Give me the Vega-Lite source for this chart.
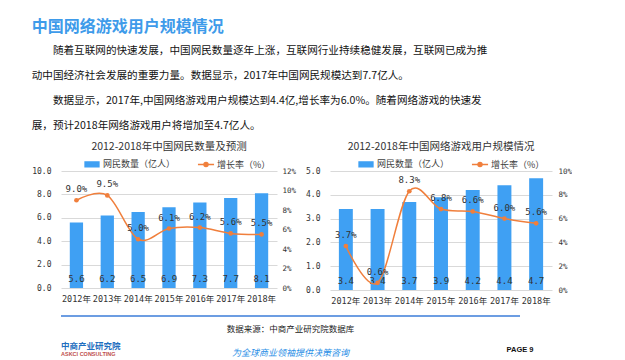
{
  "$schema": "https://vega.github.io/schema/vega-lite/v6.json",
  "padding": {"left": 31, "top": 18, "right": 0, "bottom": 0},
  "background": "white",
  "title": {
    "text": "中国网络游戏用户规模情况",
    "subtitle": [
      "\u200b　　随着互联网的快速发展，中国网民数量逐年上涨，互联网行业持续稳健发展，互联网已成为推",
      "动中国经济社会发展的重要力量。数据显示，2017年中国网民规模达到7.7亿人。",
      "\u200b　　数据显示，2017年,中国网络游戏用户规模达到4.4亿,增长率为6.0%。随着网络游戏的快速发",
      "展，预计2018年网络游戏用户将增加至4.7亿人。"
    ],
    "anchor": "start",
    "font": "Noto Sans CJK SC",
    "fontSize": 16,
    "fontWeight": "bold",
    "color": "#3e9bea",
    "subtitleFont": "Noto Sans CJK SC",
    "subtitleFontSize": 10.6,
    "subtitleColor": "#111111",
    "subtitleLineHeight": 25,
    "subtitlePadding": 11,
    "offset": 10
  },
  "config": {
    "view": {"stroke": null},
    "axis": {"gridColor": "#d9d9d9", "domain": false, "ticks": false, "labelColor": "#333333"}
  },
  "vconcat": [
    {
      "hconcat": [
        {
          "width": 216,
          "height": 117,
          "title": {"text": "2012-2018年中国网民数量及预测", "font": "Noto Sans CJK SC", "fontSize": 10.5, "fontWeight": "normal", "color": "#333333", "offset": 4},
          "data": {"values": [
            {"year": "2012年", "users": 5.6, "rate": 0.090},
            {"year": "2013年", "users": 6.2, "rate": 0.095},
            {"year": "2014年", "users": 6.5, "rate": 0.050},
            {"year": "2015年", "users": 6.9, "rate": 0.061},
            {"year": "2016年", "users": 7.3, "rate": 0.062},
            {"year": "2017年", "users": 7.7, "rate": 0.056},
            {"year": "2018年", "users": 8.1, "rate": 0.055}
          ]},
          "encoding": {
            "x": {"field": "year", "type": "nominal", "sort": null,
              "scale": {"type": "band", "paddingInner": 0.57, "paddingOuter": 0.285},
              "axis": {"title": null, "labelAngle": 0, "labelPadding": 6, "labelFontSize": 8.5, "labelFont": "DejaVu Sans Mono, Noto Sans CJK SC"}}
          },
          "layer": [
            {
              "encoding": {
                "y": {"field": "users", "type": "quantitative", "scale": {"domain": [0, 10]},
                  "axis": {"title": null, "values": [0, 2, 4, 6, 8, 10], "format": ".1f", "grid": true, "labelPadding": 10, "labelFont": "DejaVu Sans Mono", "labelFontSize": 8}}
              },
              "layer": [
                {
                  "mark": {"type": "bar"},
                  "encoding": {
                    "color": {"datum": "网民数量（亿人）",
                      "scale": {"domain": ["网民数量（亿人）", "增长率（%）"], "range": ["#3fa0f3", "#f07f3c"]},
                      "legend": {
                        "orient": "none", "direction": "horizontal", "legendX": 23, "legendY": -15,
                        "title": null, "labelFont": "Noto Sans CJK SC", "labelFontSize": 9, "labelColor": "#404040",
                        "symbolSize": 196, "columnPadding": 19, "labelOffset": 3, "padding": 0,
                        "encode": {"symbols": {"update": {
                          "shape": {"signal": "datum.value === '增长率（%）' ? 'M-1.15,0H1.15M-0.3,0A0.3,0.3 0 1,0 0.3,0A0.3,0.3 0 1,0 -0.3,0' : 'M-1,-0.36H1V0.36H-1Z'"},
                          "fill": {"signal": "datum.value === '增长率（%）' ? '#f07f3c' : '#3fa0f3'"},
                          "stroke": {"signal": "datum.value === '增长率（%）' ? '#f07f3c' : 'transparent'"},
                          "strokeWidth": {"value": 1.3},
                          "opacity": {"value": 1}
                        }}}
                      }
                    }
                  }
                },
                {
                  "mark": {"type": "text", "font": "DejaVu Sans Mono", "fontSize": 9, "color": "#333333", "baseline": "middle", "dy": -9},
                  "encoding": {
                    "y": {"datum": 0, "type": "quantitative"},
                    "text": {"field": "users", "type": "quantitative", "format": ".1f"}
                  }
                }
              ]
            },
            {
              "encoding": {
                "y": {"field": "rate", "type": "quantitative", "scale": {"domain": [0, 0.12]},
                  "axis": {"title": null, "orient": "right", "values": [0, 0.02, 0.04, 0.06, 0.08, 0.10, 0.12], "format": ".0%", "grid": false, "labelPadding": 5, "labelFont": "DejaVu Sans Mono", "labelFontSize": 7.5}}
              },
              "layer": [
                {
                  "mark": {"type": "line", "interpolate": "cardinal", "strokeWidth": 1.5, "point": {"filled": true, "size": 22}},
                  "encoding": {"color": {"datum": "增长率（%）"}}
                },
                {
                  "mark": {"type": "text", "font": "DejaVu Sans Mono", "fontSize": 9, "color": "#333333", "baseline": "middle", "dy": -11},
                  "encoding": {"text": {"field": "rate", "type": "quantitative", "format": ".1%"}}
                }
              ]
            }
          ],
          "resolve": {"scale": {"y": "independent"}}
        },
        {
          "width": 222,
          "height": 119,
          "title": {"text": "2012-2018年中国网络游戏用户规模情况", "font": "Noto Sans CJK SC", "fontSize": 10.5, "fontWeight": "normal", "color": "#333333", "offset": 4},
          "data": {"values": [
            {"year": "2012年", "users": 3.4, "rate": 0.037},
            {"year": "2013年", "users": 3.4, "rate": 0.006},
            {"year": "2014年", "users": 3.7, "rate": 0.083},
            {"year": "2015年", "users": 3.9, "rate": 0.068},
            {"year": "2016年", "users": 4.2, "rate": 0.066},
            {"year": "2017年", "users": 4.4, "rate": 0.060},
            {"year": "2018年", "users": 4.7, "rate": 0.056}
          ]},
          "encoding": {
            "x": {"field": "year", "type": "nominal", "sort": null,
              "scale": {"type": "band", "paddingInner": 0.56, "paddingOuter": 0.28},
              "axis": {"title": null, "labelAngle": 0, "labelPadding": 6, "labelFontSize": 8.5, "labelFont": "DejaVu Sans Mono, Noto Sans CJK SC"}}
          },
          "layer": [
            {
              "encoding": {
                "y": {"field": "users", "type": "quantitative", "scale": {"domain": [0, 5]},
                  "axis": {"title": null, "values": [0, 1, 2, 3, 4, 5], "format": ".1f", "grid": true, "labelPadding": 10, "labelFont": "DejaVu Sans Mono", "labelFontSize": 8}}
              },
              "layer": [
                {
                  "mark": {"type": "bar"},
                  "encoding": {
                    "color": {"datum": "网民数量（亿人）",
                      "scale": {"domain": ["网民数量（亿人）", "增长率（%）"], "range": ["#3fa0f3", "#f07f3c"]},
                      "legend": {
                        "orient": "none", "direction": "horizontal", "legendX": 28, "legendY": -15,
                        "title": null, "labelFont": "Noto Sans CJK SC", "labelFontSize": 9, "labelColor": "#404040",
                        "symbolSize": 196, "columnPadding": 19, "labelOffset": 3, "padding": 0,
                        "encode": {"symbols": {"update": {
                          "shape": {"signal": "datum.value === '增长率（%）' ? 'M-1.15,0H1.15M-0.3,0A0.3,0.3 0 1,0 0.3,0A0.3,0.3 0 1,0 -0.3,0' : 'M-1,-0.36H1V0.36H-1Z'"},
                          "fill": {"signal": "datum.value === '增长率（%）' ? '#f07f3c' : '#3fa0f3'"},
                          "stroke": {"signal": "datum.value === '增长率（%）' ? '#f07f3c' : 'transparent'"},
                          "strokeWidth": {"value": 1.3},
                          "opacity": {"value": 1}
                        }}}
                      }
                    }
                  }
                },
                {
                  "mark": {"type": "text", "font": "DejaVu Sans Mono", "fontSize": 9, "color": "#333333", "baseline": "middle", "dy": -9},
                  "encoding": {
                    "y": {"datum": 0, "type": "quantitative"},
                    "text": {"field": "users", "type": "quantitative", "format": ".1f"}
                  }
                }
              ]
            },
            {
              "encoding": {
                "y": {"field": "rate", "type": "quantitative", "scale": {"domain": [0, 0.10]},
                  "axis": {"title": null, "orient": "right", "values": [0, 0.02, 0.04, 0.06, 0.08, 0.10], "format": ".0%", "grid": false, "labelPadding": 6, "labelFont": "DejaVu Sans Mono", "labelFontSize": 7.5}}
              },
              "layer": [
                {
                  "mark": {"type": "line", "interpolate": "cardinal", "strokeWidth": 1.5, "point": {"filled": true, "size": 22}},
                  "encoding": {"color": {"datum": "增长率（%）"}}
                },
                {
                  "mark": {"type": "text", "font": "DejaVu Sans Mono", "fontSize": 9, "color": "#333333", "baseline": "middle", "dy": -11},
                  "encoding": {"text": {"field": "rate", "type": "quantitative", "format": ".1%"}}
                }
              ]
            }
          ],
          "resolve": {"scale": {"y": "independent"}}
        }
      ],
      "spacing": 9,
      "resolve": {"scale": {"color": "independent"}, "legend": {"color": "independent"}}
    },
    {
      "width": 459,
      "height": 30,
      "data": {"values": [
        {"line": "rule"},
        {"line": "source", "label": "数据来源：中商产业研究院数据库"},
        {"line": "bottom", "item": "logo", "label": "中商产业研究院"},
        {"line": "bottom", "item": "logo", "label": "ASKCI CONSULTING"},
        {"line": "bottom", "item": "slogan", "label": "为全球商业领袖提供决策咨询"},
        {"line": "bottom", "item": "page", "label": "PAGE 9"}
      ]},
      "encoding": {
        "y": {"field": "line", "type": "nominal", "scale": {"type": "point", "domain": ["rule", "source", "bottom"], "padding": 0}, "axis": null}
      },
      "layer": [
        {
          "transform": [{"filter": "datum.line === 'rule'"}],
          "mark": {"type": "rule", "color": "#3b7dd8", "strokeWidth": 1.5}
        },
        {
          "transform": [{"filter": "datum.line === 'source'"}],
          "mark": {"type": "text", "font": "Noto Sans CJK SC", "fontSize": 8.5, "color": "#222222", "baseline": "middle", "dy": -2},
          "encoding": {"text": {"field": "label"}}
        },
        {
          "transform": [{"filter": "datum.label === '中商产业研究院'"}],
          "mark": {"type": "text", "font": "Noto Sans CJK SC", "fontSize": 8.5, "fontWeight": "bold", "color": "#1f6fc0", "align": "left", "baseline": "middle", "dy": 0},
          "encoding": {
            "x": {"field": "item", "type": "nominal", "scale": {"type": "point", "domain": ["logo", "slogan", "page"], "padding": 0}, "axis": null},
            "text": {"field": "label"}
          }
        },
        {
          "transform": [{"filter": "datum.label === 'ASKCI CONSULTING'"}],
          "mark": {"type": "text", "font": "Liberation Sans", "fontSize": 5.5, "fontWeight": "bold", "color": "#c0504d", "align": "left", "baseline": "middle", "dy": 8},
          "encoding": {
            "x": {"field": "item", "type": "nominal", "scale": {"type": "point", "domain": ["logo", "slogan", "page"], "padding": 0}, "axis": null},
            "text": {"field": "label"}
          }
        },
        {
          "transform": [{"filter": "datum.item === 'slogan'"}],
          "mark": {"type": "text", "font": "Noto Sans CJK SC", "fontSize": 9, "fontStyle": "italic", "color": "#2b8fe6", "align": "center", "baseline": "middle", "dy": 7},
          "encoding": {
            "x": {"field": "item", "type": "nominal", "scale": {"type": "point", "domain": ["logo", "slogan", "page"], "padding": 0}, "axis": null},
            "text": {"field": "label"}
          }
        },
        {
          "transform": [{"filter": "datum.item === 'page'"}],
          "mark": {"type": "text", "font": "Liberation Sans", "fontSize": 7.5, "fontWeight": "bold", "color": "#111111", "align": "center", "baseline": "middle", "dy": 4},
          "encoding": {
            "x": {"field": "item", "type": "nominal", "scale": {"type": "point", "domain": ["logo", "slogan", "page"], "padding": 0}, "axis": null},
            "text": {"field": "label"}
          }
        }
      ]
    }
  ],
  "spacing": 10
}
